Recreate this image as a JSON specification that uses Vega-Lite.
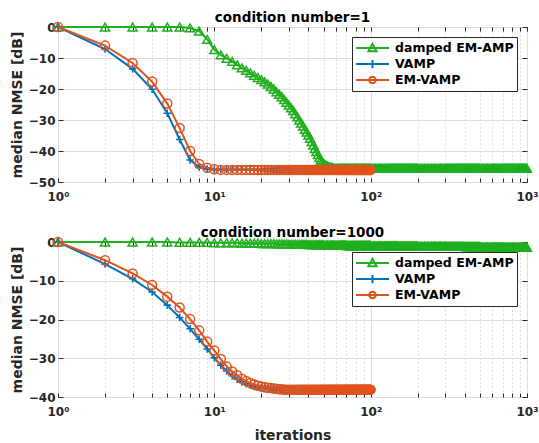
{
  "$schema": "https://vega.github.io/schema/vega-lite/v6.json",
  "padding": {"left": 9, "top": 10, "right": 2, "bottom": 2},
  "spacing": 22,
  "config": {
    "font": "DejaVu Sans",
    "view": {"stroke": "#262626", "strokeWidth": 1},
    "axis": {
      "labelFont": "DejaVu Sans", "labelFontWeight": "bold", "labelFontSize": 12, "labelColor": "#262626",
      "titleFont": "DejaVu Sans", "titleFontWeight": "bold", "titleFontSize": 14, "titleColor": "#262626",
      "domain": false, "tickColor": "#262626", "gridColor": "#dedede", "gridOpacity": 1, "gridWidth": 1
    },
    "title": {"font": "DejaVu Sans", "fontSize": 13.5, "fontWeight": "bold", "color": "#000000", "offset": -5},
    "legend": {
      "orient": "top-right", "offset": 10, "fillColor": "#ffffff", "strokeColor": "#262626", "padding": 3,
      "symbolSize": 1089, "clipHeight": 16, "symbolStrokeWidth": 2, "symbolOpacity": 1,
      "labelFont": "DejaVu Sans", "labelFontSize": 12.5, "labelFontWeight": "bold", "labelColor": "#000000",
      "labelOffset": 5, "rowPadding": 0
    }
  },
  "resolve": {"scale": {"color": "independent", "shape": "independent"}, "legend": {"color": "independent", "shape": "independent"}},
  "datasets": {
    "leg": [{"s": "damped EM-AMP", "x": 1, "y": 0}, {"s": "VAMP", "x": 1, "y": 0}, {"s": "EM-VAMP", "x": 1, "y": 0}],
    "a1": [{"x":1,"y":0},{"x":2,"y":0},{"x":3,"y":0},{"x":4,"y":0},{"x":5,"y":0},{"x":6,"y":0},{"x":7,"y":-0.3},{"x":8,"y":-1.3},{"x":9,"y":-4},{"x":10,"y":-7.3},{"x":11,"y":-9},{"x":12,"y":-10.1},{"x":13,"y":-11.1},{"x":14,"y":-12.2},{"x":15,"y":-13.2},{"x":16,"y":-14},{"x":17,"y":-14.8},{"x":18,"y":-15.6},{"x":19,"y":-16.3},{"x":20,"y":-17},{"x":21,"y":-17.7},{"x":22,"y":-18.4},{"x":23,"y":-19.2},{"x":24,"y":-20},{"x":25,"y":-20.9},{"x":26,"y":-21.7},{"x":27,"y":-22.5},{"x":28,"y":-23.4},{"x":29,"y":-24.3},{"x":30,"y":-25.2},{"x":31,"y":-26.1},{"x":32,"y":-27},{"x":33,"y":-28},{"x":34,"y":-29},{"x":35,"y":-30},{"x":36,"y":-31},{"x":37,"y":-32},{"x":38,"y":-33},{"x":39,"y":-33.9},{"x":40,"y":-34.9},{"x":41,"y":-35.9},{"x":42,"y":-37},{"x":43,"y":-38.1},{"x":44,"y":-39.2},{"x":45,"y":-40.2},{"x":46,"y":-41.2},{"x":47,"y":-42.1},{"x":48,"y":-42.9},{"x":49,"y":-43.5},{"x":50,"y":-44},{"x":51,"y":-44.4},{"x":52,"y":-44.7},{"x":53,"y":-44.9},{"x":54,"y":-45.1},{"x":55,"y":-45.2},{"x":56,"y":-45.3},{"x":57,"y":-45.4},{"x":58,"y":-45.5},{"x":59,"y":-45.6},{"x":60,"y":-45.6},{"x":61,"y":-45.6},{"x":62,"y":-45.6},{"x":63,"y":-45.6},{"x":64,"y":-45.6},{"x":65,"y":-45.6},{"x":66,"y":-45.6},{"x":67,"y":-45.6},{"x":68,"y":-45.6},{"x":69,"y":-45.6},{"x":70,"y":-45.6},{"x":71,"y":-45.6},{"x":72,"y":-45.6},{"x":73,"y":-45.6},{"x":74,"y":-45.6},{"x":75,"y":-45.6},{"x":76,"y":-45.6},{"x":77,"y":-45.6},{"x":78,"y":-45.6},{"x":79,"y":-45.6},{"x":80,"y":-45.6},{"x":81,"y":-45.6},{"x":82,"y":-45.6},{"x":83,"y":-45.6},{"x":84,"y":-45.6},{"x":85,"y":-45.6},{"x":86,"y":-45.6},{"x":87,"y":-45.6},{"x":88,"y":-45.6},{"x":89,"y":-45.6},{"x":90,"y":-45.6},{"x":91,"y":-45.6},{"x":92,"y":-45.6},{"x":93,"y":-45.6},{"x":94,"y":-45.6},{"x":95,"y":-45.6},{"x":96,"y":-45.6},{"x":97,"y":-45.6},{"x":98,"y":-45.6},{"x":99,"y":-45.6},{"x":100,"y":-45.6},{"x":102,"y":-45.6},{"x":104,"y":-45.6},{"x":106,"y":-45.6},{"x":108,"y":-45.6},{"x":110,"y":-45.6},{"x":112,"y":-45.6},{"x":114,"y":-45.6},{"x":116,"y":-45.6},{"x":118,"y":-45.6},{"x":120,"y":-45.6},{"x":122,"y":-45.6},{"x":124,"y":-45.6},{"x":126,"y":-45.6},{"x":128,"y":-45.6},{"x":130,"y":-45.6},{"x":132,"y":-45.6},{"x":134,"y":-45.6},{"x":136,"y":-45.6},{"x":138,"y":-45.6},{"x":140,"y":-45.6},{"x":142,"y":-45.6},{"x":144,"y":-45.6},{"x":146,"y":-45.6},{"x":148,"y":-45.6},{"x":150,"y":-45.6},{"x":152,"y":-45.6},{"x":154,"y":-45.6},{"x":156,"y":-45.6},{"x":158,"y":-45.6},{"x":160,"y":-45.6},{"x":162,"y":-45.6},{"x":164,"y":-45.6},{"x":166,"y":-45.6},{"x":168,"y":-45.6},{"x":170,"y":-45.6},{"x":172,"y":-45.6},{"x":174,"y":-45.6},{"x":176,"y":-45.6},{"x":178,"y":-45.6},{"x":180,"y":-45.6},{"x":182,"y":-45.6},{"x":184,"y":-45.6},{"x":186,"y":-45.6},{"x":188,"y":-45.6},{"x":190,"y":-45.6},{"x":192,"y":-45.6},{"x":194,"y":-45.6},{"x":196,"y":-45.6},{"x":198,"y":-45.6},{"x":200,"y":-45.6},{"x":205,"y":-45.6},{"x":210,"y":-45.6},{"x":215,"y":-45.6},{"x":220,"y":-45.6},{"x":225,"y":-45.6},{"x":230,"y":-45.6},{"x":235,"y":-45.6},{"x":240,"y":-45.6},{"x":245,"y":-45.6},{"x":250,"y":-45.6},{"x":255,"y":-45.6},{"x":260,"y":-45.6},{"x":265,"y":-45.6},{"x":270,"y":-45.6},{"x":275,"y":-45.6},{"x":280,"y":-45.6},{"x":285,"y":-45.6},{"x":290,"y":-45.6},{"x":295,"y":-45.6},{"x":300,"y":-45.6},{"x":305,"y":-45.6},{"x":310,"y":-45.6},{"x":315,"y":-45.6},{"x":320,"y":-45.6},{"x":325,"y":-45.6},{"x":330,"y":-45.6},{"x":335,"y":-45.6},{"x":340,"y":-45.6},{"x":345,"y":-45.6},{"x":350,"y":-45.6},{"x":355,"y":-45.6},{"x":360,"y":-45.6},{"x":365,"y":-45.6},{"x":370,"y":-45.6},{"x":375,"y":-45.6},{"x":380,"y":-45.6},{"x":385,"y":-45.6},{"x":390,"y":-45.6},{"x":395,"y":-45.6},{"x":400,"y":-45.6},{"x":405,"y":-45.6},{"x":410,"y":-45.6},{"x":415,"y":-45.6},{"x":420,"y":-45.6},{"x":425,"y":-45.6},{"x":430,"y":-45.6},{"x":435,"y":-45.6},{"x":440,"y":-45.6},{"x":445,"y":-45.6},{"x":450,"y":-45.6},{"x":455,"y":-45.6},{"x":460,"y":-45.6},{"x":465,"y":-45.6},{"x":470,"y":-45.6},{"x":475,"y":-45.6},{"x":480,"y":-45.6},{"x":485,"y":-45.6},{"x":490,"y":-45.6},{"x":495,"y":-45.6},{"x":500,"y":-45.6},{"x":510,"y":-45.6},{"x":520,"y":-45.6},{"x":530,"y":-45.6},{"x":540,"y":-45.6},{"x":550,"y":-45.6},{"x":560,"y":-45.6},{"x":570,"y":-45.6},{"x":580,"y":-45.6},{"x":590,"y":-45.6},{"x":600,"y":-45.6},{"x":610,"y":-45.6},{"x":620,"y":-45.6},{"x":630,"y":-45.6},{"x":640,"y":-45.6},{"x":650,"y":-45.6},{"x":660,"y":-45.6},{"x":670,"y":-45.6},{"x":680,"y":-45.6},{"x":690,"y":-45.6},{"x":700,"y":-45.6},{"x":710,"y":-45.6},{"x":720,"y":-45.6},{"x":730,"y":-45.6},{"x":740,"y":-45.6},{"x":750,"y":-45.6},{"x":760,"y":-45.6},{"x":770,"y":-45.6},{"x":780,"y":-45.6},{"x":790,"y":-45.6},{"x":800,"y":-45.6},{"x":810,"y":-45.6},{"x":820,"y":-45.6},{"x":830,"y":-45.6},{"x":840,"y":-45.6},{"x":850,"y":-45.6},{"x":860,"y":-45.6},{"x":870,"y":-45.6},{"x":880,"y":-45.6},{"x":890,"y":-45.6},{"x":900,"y":-45.6},{"x":910,"y":-45.6},{"x":920,"y":-45.6},{"x":930,"y":-45.6},{"x":940,"y":-45.6},{"x":950,"y":-45.6},{"x":960,"y":-45.6},{"x":970,"y":-45.6},{"x":980,"y":-45.6},{"x":990,"y":-45.6},{"x":1000,"y":-45.6}],
    "v1": [{"x":1,"y":0},{"x":2,"y":-7.1},{"x":3,"y":-13.5},{"x":4,"y":-20.1},{"x":5,"y":-27.8},{"x":6,"y":-36.3},{"x":7,"y":-42.9},{"x":8,"y":-45.2},{"x":9,"y":-45.8},{"x":10,"y":-46},{"x":11,"y":-46},{"x":12,"y":-46},{"x":13,"y":-46},{"x":14,"y":-46},{"x":15,"y":-46},{"x":16,"y":-46},{"x":17,"y":-46},{"x":18,"y":-46},{"x":19,"y":-46},{"x":20,"y":-46},{"x":21,"y":-46},{"x":22,"y":-46},{"x":23,"y":-46},{"x":24,"y":-46},{"x":25,"y":-46},{"x":26,"y":-46},{"x":27,"y":-46},{"x":28,"y":-46},{"x":29,"y":-46},{"x":30,"y":-46},{"x":31,"y":-46},{"x":32,"y":-46},{"x":33,"y":-46},{"x":34,"y":-46},{"x":35,"y":-46},{"x":36,"y":-46},{"x":37,"y":-46},{"x":38,"y":-46},{"x":39,"y":-46},{"x":40,"y":-46},{"x":41,"y":-46},{"x":42,"y":-46},{"x":43,"y":-46},{"x":44,"y":-46},{"x":45,"y":-46},{"x":46,"y":-46},{"x":47,"y":-46},{"x":48,"y":-46},{"x":49,"y":-46},{"x":50,"y":-46},{"x":51,"y":-46},{"x":52,"y":-46},{"x":53,"y":-46},{"x":54,"y":-46},{"x":55,"y":-46},{"x":56,"y":-46},{"x":57,"y":-46},{"x":58,"y":-46},{"x":59,"y":-46},{"x":60,"y":-46},{"x":61,"y":-46},{"x":62,"y":-46},{"x":63,"y":-46},{"x":64,"y":-46},{"x":65,"y":-46},{"x":66,"y":-46},{"x":67,"y":-46},{"x":68,"y":-46},{"x":69,"y":-46},{"x":70,"y":-46},{"x":71,"y":-46},{"x":72,"y":-46},{"x":73,"y":-46},{"x":74,"y":-46},{"x":75,"y":-46},{"x":76,"y":-46},{"x":77,"y":-46},{"x":78,"y":-46},{"x":79,"y":-46},{"x":80,"y":-46},{"x":81,"y":-46},{"x":82,"y":-46},{"x":83,"y":-46},{"x":84,"y":-46},{"x":85,"y":-46},{"x":86,"y":-46},{"x":87,"y":-46},{"x":88,"y":-46},{"x":89,"y":-46},{"x":90,"y":-46},{"x":91,"y":-46},{"x":92,"y":-46},{"x":93,"y":-46},{"x":94,"y":-46},{"x":95,"y":-46},{"x":96,"y":-46},{"x":97,"y":-46},{"x":98,"y":-46},{"x":99,"y":-46},{"x":100,"y":-46}],
    "e1": [{"x":1,"y":0},{"x":2,"y":-6},{"x":3,"y":-11.6},{"x":4,"y":-17.6},{"x":5,"y":-24.7},{"x":6,"y":-32.6},{"x":7,"y":-40},{"x":8,"y":-44.2},{"x":9,"y":-45.4},{"x":10,"y":-45.9},{"x":11,"y":-46.1},{"x":12,"y":-46.1},{"x":13,"y":-46.1},{"x":14,"y":-46.1},{"x":15,"y":-46.1},{"x":16,"y":-46.1},{"x":17,"y":-46.1},{"x":18,"y":-46.1},{"x":19,"y":-46.1},{"x":20,"y":-46.1},{"x":21,"y":-46.1},{"x":22,"y":-46.1},{"x":23,"y":-46.1},{"x":24,"y":-46.1},{"x":25,"y":-46.1},{"x":26,"y":-46.1},{"x":27,"y":-46.1},{"x":28,"y":-46.1},{"x":29,"y":-46.1},{"x":30,"y":-46.1},{"x":31,"y":-46.1},{"x":32,"y":-46.1},{"x":33,"y":-46.1},{"x":34,"y":-46.1},{"x":35,"y":-46.1},{"x":36,"y":-46.1},{"x":37,"y":-46.1},{"x":38,"y":-46.1},{"x":39,"y":-46.1},{"x":40,"y":-46.1},{"x":41,"y":-46.1},{"x":42,"y":-46.1},{"x":43,"y":-46.1},{"x":44,"y":-46.1},{"x":45,"y":-46.1},{"x":46,"y":-46.1},{"x":47,"y":-46.1},{"x":48,"y":-46.1},{"x":49,"y":-46.1},{"x":50,"y":-46.1},{"x":51,"y":-46.1},{"x":52,"y":-46.1},{"x":53,"y":-46.1},{"x":54,"y":-46.1},{"x":55,"y":-46.1},{"x":56,"y":-46.1},{"x":57,"y":-46.1},{"x":58,"y":-46.1},{"x":59,"y":-46.1},{"x":60,"y":-46.1},{"x":61,"y":-46.1},{"x":62,"y":-46.1},{"x":63,"y":-46.1},{"x":64,"y":-46.1},{"x":65,"y":-46.1},{"x":66,"y":-46.1},{"x":67,"y":-46.1},{"x":68,"y":-46.1},{"x":69,"y":-46.1},{"x":70,"y":-46.1},{"x":71,"y":-46.1},{"x":72,"y":-46.1},{"x":73,"y":-46.1},{"x":74,"y":-46.1},{"x":75,"y":-46.1},{"x":76,"y":-46.1},{"x":77,"y":-46.1},{"x":78,"y":-46.1},{"x":79,"y":-46.1},{"x":80,"y":-46.1},{"x":81,"y":-46.1},{"x":82,"y":-46.1},{"x":83,"y":-46.1},{"x":84,"y":-46.1},{"x":85,"y":-46.1},{"x":86,"y":-46.1},{"x":87,"y":-46.1},{"x":88,"y":-46.1},{"x":89,"y":-46.1},{"x":90,"y":-46.1},{"x":91,"y":-46.1},{"x":92,"y":-46.1},{"x":93,"y":-46.1},{"x":94,"y":-46.1},{"x":95,"y":-46.1},{"x":96,"y":-46.1},{"x":97,"y":-46.1},{"x":98,"y":-46.1},{"x":99,"y":-46.1},{"x":100,"y":-46.1}],
    "a2": [{"x":1,"y":0},{"x":2,"y":0},{"x":3,"y":0},{"x":4,"y":0},{"x":5,"y":0},{"x":6,"y":-0.1},{"x":7,"y":-0.1},{"x":8,"y":-0.1},{"x":9,"y":-0.1},{"x":10,"y":-0.2},{"x":11,"y":-0.2},{"x":12,"y":-0.2},{"x":13,"y":-0.2},{"x":14,"y":-0.2},{"x":15,"y":-0.3},{"x":16,"y":-0.3},{"x":17,"y":-0.3},{"x":18,"y":-0.3},{"x":19,"y":-0.3},{"x":20,"y":-0.4},{"x":21,"y":-0.4},{"x":22,"y":-0.4},{"x":23,"y":-0.4},{"x":24,"y":-0.4},{"x":25,"y":-0.5},{"x":26,"y":-0.5},{"x":27,"y":-0.5},{"x":28,"y":-0.5},{"x":29,"y":-0.5},{"x":30,"y":-0.6},{"x":31,"y":-0.6},{"x":32,"y":-0.6},{"x":33,"y":-0.6},{"x":34,"y":-0.6},{"x":35,"y":-0.6},{"x":36,"y":-0.6},{"x":37,"y":-0.6},{"x":38,"y":-0.6},{"x":39,"y":-0.6},{"x":40,"y":-0.7},{"x":41,"y":-0.7},{"x":42,"y":-0.7},{"x":43,"y":-0.7},{"x":44,"y":-0.7},{"x":45,"y":-0.7},{"x":46,"y":-0.7},{"x":47,"y":-0.7},{"x":48,"y":-0.7},{"x":49,"y":-0.7},{"x":50,"y":-0.8},{"x":51,"y":-0.8},{"x":52,"y":-0.8},{"x":53,"y":-0.8},{"x":54,"y":-0.8},{"x":55,"y":-0.8},{"x":56,"y":-0.8},{"x":57,"y":-0.8},{"x":58,"y":-0.8},{"x":59,"y":-0.8},{"x":60,"y":-0.8},{"x":61,"y":-0.8},{"x":62,"y":-0.8},{"x":63,"y":-0.8},{"x":64,"y":-0.8},{"x":65,"y":-0.8},{"x":66,"y":-0.8},{"x":67,"y":-0.8},{"x":68,"y":-0.8},{"x":69,"y":-0.8},{"x":70,"y":-0.9},{"x":71,"y":-0.9},{"x":72,"y":-0.9},{"x":73,"y":-0.9},{"x":74,"y":-0.9},{"x":75,"y":-0.9},{"x":76,"y":-0.9},{"x":77,"y":-0.9},{"x":78,"y":-0.9},{"x":79,"y":-0.9},{"x":80,"y":-0.9},{"x":81,"y":-0.9},{"x":82,"y":-0.9},{"x":83,"y":-0.9},{"x":84,"y":-0.9},{"x":85,"y":-0.9},{"x":86,"y":-0.9},{"x":87,"y":-0.9},{"x":88,"y":-0.9},{"x":89,"y":-0.9},{"x":90,"y":-0.9},{"x":91,"y":-0.9},{"x":92,"y":-0.9},{"x":93,"y":-0.9},{"x":94,"y":-0.9},{"x":95,"y":-0.9},{"x":96,"y":-0.9},{"x":97,"y":-0.9},{"x":98,"y":-0.9},{"x":99,"y":-0.9},{"x":100,"y":-0.9},{"x":102,"y":-1},{"x":104,"y":-1},{"x":106,"y":-1},{"x":108,"y":-1},{"x":110,"y":-1},{"x":112,"y":-1},{"x":114,"y":-1},{"x":116,"y":-1},{"x":118,"y":-1},{"x":120,"y":-1},{"x":122,"y":-1},{"x":124,"y":-1},{"x":126,"y":-1},{"x":128,"y":-1},{"x":130,"y":-1},{"x":132,"y":-1},{"x":134,"y":-1},{"x":136,"y":-1},{"x":138,"y":-1},{"x":140,"y":-1},{"x":142,"y":-1},{"x":144,"y":-1},{"x":146,"y":-1},{"x":148,"y":-1},{"x":150,"y":-1},{"x":152,"y":-1.05},{"x":154,"y":-1.05},{"x":156,"y":-1.05},{"x":158,"y":-1.05},{"x":160,"y":-1.05},{"x":162,"y":-1.05},{"x":164,"y":-1.05},{"x":166,"y":-1.05},{"x":168,"y":-1.05},{"x":170,"y":-1.05},{"x":172,"y":-1.05},{"x":174,"y":-1.05},{"x":176,"y":-1.05},{"x":178,"y":-1.05},{"x":180,"y":-1.05},{"x":182,"y":-1.05},{"x":184,"y":-1.05},{"x":186,"y":-1.05},{"x":188,"y":-1.05},{"x":190,"y":-1.05},{"x":192,"y":-1.05},{"x":194,"y":-1.05},{"x":196,"y":-1.05},{"x":198,"y":-1.05},{"x":200,"y":-1.05},{"x":205,"y":-1.1},{"x":210,"y":-1.1},{"x":215,"y":-1.1},{"x":220,"y":-1.1},{"x":225,"y":-1.1},{"x":230,"y":-1.1},{"x":235,"y":-1.1},{"x":240,"y":-1.1},{"x":245,"y":-1.1},{"x":250,"y":-1.1},{"x":255,"y":-1.1},{"x":260,"y":-1.1},{"x":265,"y":-1.1},{"x":270,"y":-1.1},{"x":275,"y":-1.1},{"x":280,"y":-1.1},{"x":285,"y":-1.1},{"x":290,"y":-1.1},{"x":295,"y":-1.1},{"x":300,"y":-1.1},{"x":305,"y":-1.15},{"x":310,"y":-1.15},{"x":315,"y":-1.15},{"x":320,"y":-1.15},{"x":325,"y":-1.15},{"x":330,"y":-1.15},{"x":335,"y":-1.15},{"x":340,"y":-1.15},{"x":345,"y":-1.15},{"x":350,"y":-1.15},{"x":355,"y":-1.15},{"x":360,"y":-1.15},{"x":365,"y":-1.15},{"x":370,"y":-1.15},{"x":375,"y":-1.15},{"x":380,"y":-1.15},{"x":385,"y":-1.15},{"x":390,"y":-1.15},{"x":395,"y":-1.15},{"x":400,"y":-1.15},{"x":405,"y":-1.2},{"x":410,"y":-1.2},{"x":415,"y":-1.2},{"x":420,"y":-1.2},{"x":425,"y":-1.2},{"x":430,"y":-1.2},{"x":435,"y":-1.2},{"x":440,"y":-1.2},{"x":445,"y":-1.2},{"x":450,"y":-1.2},{"x":455,"y":-1.2},{"x":460,"y":-1.2},{"x":465,"y":-1.2},{"x":470,"y":-1.2},{"x":475,"y":-1.2},{"x":480,"y":-1.2},{"x":485,"y":-1.2},{"x":490,"y":-1.2},{"x":495,"y":-1.2},{"x":500,"y":-1.2},{"x":510,"y":-1.3},{"x":520,"y":-1.3},{"x":530,"y":-1.3},{"x":540,"y":-1.3},{"x":550,"y":-1.3},{"x":560,"y":-1.3},{"x":570,"y":-1.3},{"x":580,"y":-1.3},{"x":590,"y":-1.3},{"x":600,"y":-1.3},{"x":610,"y":-1.3},{"x":620,"y":-1.3},{"x":630,"y":-1.3},{"x":640,"y":-1.3},{"x":650,"y":-1.3},{"x":660,"y":-1.3},{"x":670,"y":-1.3},{"x":680,"y":-1.3},{"x":690,"y":-1.3},{"x":700,"y":-1.3},{"x":710,"y":-1.4},{"x":720,"y":-1.4},{"x":730,"y":-1.4},{"x":740,"y":-1.4},{"x":750,"y":-1.4},{"x":760,"y":-1.4},{"x":770,"y":-1.4},{"x":780,"y":-1.4},{"x":790,"y":-1.4},{"x":800,"y":-1.4},{"x":810,"y":-1.4},{"x":820,"y":-1.4},{"x":830,"y":-1.4},{"x":840,"y":-1.4},{"x":850,"y":-1.4},{"x":860,"y":-1.4},{"x":870,"y":-1.4},{"x":880,"y":-1.4},{"x":890,"y":-1.4},{"x":900,"y":-1.4},{"x":910,"y":-1.4},{"x":920,"y":-1.4},{"x":930,"y":-1.4},{"x":940,"y":-1.4},{"x":950,"y":-1.4},{"x":960,"y":-1.4},{"x":970,"y":-1.4},{"x":980,"y":-1.4},{"x":990,"y":-1.4},{"x":1000,"y":-1.4}],
    "v2": [{"x":1,"y":0},{"x":2,"y":-5.7},{"x":3,"y":-9.5},{"x":4,"y":-12.9},{"x":5,"y":-16.3},{"x":6,"y":-19.5},{"x":7,"y":-22.4},{"x":8,"y":-25.1},{"x":9,"y":-27.6},{"x":10,"y":-29.9},{"x":11,"y":-31.8},{"x":12,"y":-33.3},{"x":13,"y":-34.5},{"x":14,"y":-35.4},{"x":15,"y":-36.1},{"x":16,"y":-36.6},{"x":17,"y":-37},{"x":18,"y":-37.3},{"x":19,"y":-37.5},{"x":20,"y":-37.7},{"x":21,"y":-37.8},{"x":22,"y":-37.9},{"x":23,"y":-38},{"x":24,"y":-38.1},{"x":25,"y":-38.2},{"x":26,"y":-38.2},{"x":27,"y":-38.2},{"x":28,"y":-38.2},{"x":29,"y":-38.2},{"x":30,"y":-38.2},{"x":31,"y":-38.2},{"x":32,"y":-38.2},{"x":33,"y":-38.2},{"x":34,"y":-38.2},{"x":35,"y":-38.2},{"x":36,"y":-38.2},{"x":37,"y":-38.2},{"x":38,"y":-38.2},{"x":39,"y":-38.2},{"x":40,"y":-38.2},{"x":41,"y":-38.2},{"x":42,"y":-38.2},{"x":43,"y":-38.2},{"x":44,"y":-38.2},{"x":45,"y":-38.2},{"x":46,"y":-38.2},{"x":47,"y":-38.2},{"x":48,"y":-38.2},{"x":49,"y":-38.2},{"x":50,"y":-38.2},{"x":51,"y":-38.2},{"x":52,"y":-38.2},{"x":53,"y":-38.2},{"x":54,"y":-38.2},{"x":55,"y":-38.2},{"x":56,"y":-38.2},{"x":57,"y":-38.2},{"x":58,"y":-38.2},{"x":59,"y":-38.2},{"x":60,"y":-38.2},{"x":61,"y":-38.2},{"x":62,"y":-38.2},{"x":63,"y":-38.2},{"x":64,"y":-38.2},{"x":65,"y":-38.2},{"x":66,"y":-38.2},{"x":67,"y":-38.2},{"x":68,"y":-38.2},{"x":69,"y":-38.2},{"x":70,"y":-38.2},{"x":71,"y":-38.2},{"x":72,"y":-38.2},{"x":73,"y":-38.2},{"x":74,"y":-38.2},{"x":75,"y":-38.2},{"x":76,"y":-38.2},{"x":77,"y":-38.2},{"x":78,"y":-38.2},{"x":79,"y":-38.2},{"x":80,"y":-38.2},{"x":81,"y":-38.2},{"x":82,"y":-38.2},{"x":83,"y":-38.2},{"x":84,"y":-38.2},{"x":85,"y":-38.2},{"x":86,"y":-38.2},{"x":87,"y":-38.2},{"x":88,"y":-38.2},{"x":89,"y":-38.2},{"x":90,"y":-38.2},{"x":91,"y":-38.2},{"x":92,"y":-38.2},{"x":93,"y":-38.2},{"x":94,"y":-38.2},{"x":95,"y":-38.2},{"x":96,"y":-38.2},{"x":97,"y":-38.2},{"x":98,"y":-38.2},{"x":99,"y":-38.2},{"x":100,"y":-38.2}],
    "e2": [{"x":1,"y":0},{"x":2,"y":-4.7},{"x":3,"y":-8.1},{"x":4,"y":-11.1},{"x":5,"y":-14.1},{"x":6,"y":-16.9},{"x":7,"y":-19.9},{"x":8,"y":-22.8},{"x":9,"y":-25.7},{"x":10,"y":-28},{"x":11,"y":-30.2},{"x":12,"y":-32.1},{"x":13,"y":-33.4},{"x":14,"y":-34.4},{"x":15,"y":-35.3},{"x":16,"y":-35.9},{"x":17,"y":-36.4},{"x":18,"y":-36.8},{"x":19,"y":-37.1},{"x":20,"y":-37.3},{"x":21,"y":-37.5},{"x":22,"y":-37.6},{"x":23,"y":-37.7},{"x":24,"y":-37.8},{"x":25,"y":-37.9},{"x":26,"y":-38},{"x":27,"y":-38},{"x":28,"y":-38.1},{"x":29,"y":-38.1},{"x":30,"y":-38.1},{"x":31,"y":-38.1},{"x":32,"y":-38.1},{"x":33,"y":-38.1},{"x":34,"y":-38.1},{"x":35,"y":-38.1},{"x":36,"y":-38.1},{"x":37,"y":-38.1},{"x":38,"y":-38.1},{"x":39,"y":-38.1},{"x":40,"y":-38.1},{"x":41,"y":-38.1},{"x":42,"y":-38.1},{"x":43,"y":-38.1},{"x":44,"y":-38.1},{"x":45,"y":-38.1},{"x":46,"y":-38.1},{"x":47,"y":-38.1},{"x":48,"y":-38.1},{"x":49,"y":-38.1},{"x":50,"y":-38.1},{"x":51,"y":-38.1},{"x":52,"y":-38.1},{"x":53,"y":-38.1},{"x":54,"y":-38.1},{"x":55,"y":-38.1},{"x":56,"y":-38.1},{"x":57,"y":-38.1},{"x":58,"y":-38.1},{"x":59,"y":-38.1},{"x":60,"y":-38.1},{"x":61,"y":-38.1},{"x":62,"y":-38.1},{"x":63,"y":-38.1},{"x":64,"y":-38.1},{"x":65,"y":-38.1},{"x":66,"y":-38.1},{"x":67,"y":-38.1},{"x":68,"y":-38.1},{"x":69,"y":-38.1},{"x":70,"y":-38.1},{"x":71,"y":-38.1},{"x":72,"y":-38.1},{"x":73,"y":-38.1},{"x":74,"y":-38.1},{"x":75,"y":-38.1},{"x":76,"y":-38.1},{"x":77,"y":-38.1},{"x":78,"y":-38.1},{"x":79,"y":-38.1},{"x":80,"y":-38.1},{"x":81,"y":-38.1},{"x":82,"y":-38.1},{"x":83,"y":-38.1},{"x":84,"y":-38.1},{"x":85,"y":-38.1},{"x":86,"y":-38.1},{"x":87,"y":-38.1},{"x":88,"y":-38.1},{"x":89,"y":-38.1},{"x":90,"y":-38.1},{"x":91,"y":-38.1},{"x":92,"y":-38.1},{"x":93,"y":-38.1},{"x":94,"y":-38.1},{"x":95,"y":-38.1},{"x":96,"y":-38.1},{"x":97,"y":-38.1},{"x":98,"y":-38.1},{"x":99,"y":-38.1},{"x":100,"y":-38.1}]
  },
  "vconcat": [
    {
      "width": 469, "height": 155,
      "title": {"text": "condition number=1"},
      "layer": [
        {"data": {"name": "a1"}, "mark": {"type": "line", "color": "#1FAF1F", "strokeWidth": 2},
         "encoding": {
           "x": {"field": "x", "type": "quantitative", "scale": {"type": "log", "domain": [1, 1000], "nice": false},
                 "axis": {"orient": "bottom", "title": null, "values": [1,2,3,4,5,6,7,8,9,10,20,30,40,50,60,70,80,90,100,200,300,400,500,600,700,800,900,1000],
                          "labelExpr": "datum.value == 1 ? '10⁰' : datum.value == 10 ? '10¹' : datum.value == 100 ? '10²' : datum.value == 1000 ? '10³' : ''",
                          "labelFlush": false, "labelOverlap": false, "labelPadding": 13, "tickSize": -4, "grid": true,
                          "gridDash": {"condition": {"test": "datum.value == 1 || datum.value == 10 || datum.value == 100 || datum.value == 1000", "value": []}, "value": [1, 3]},
                          "gridColor": {"condition": {"test": "datum.value == 1 || datum.value == 10 || datum.value == 100 || datum.value == 1000", "value": "#dedede"}, "value": "#c4c4c4"}}},
           "y": {"field": "y", "type": "quantitative", "scale": {"domain": [-50, 0], "nice": false},
                 "axis": {"orient": "left", "title": "median NMSE [dB]", "values": [-50,-40,-30,-20,-10,0], "tickSize": -5, "labelPadding": 8, "grid": true, "titlePadding": 4}}
         }},
        {"data": {"name": "a1"}, "mark": {"type": "point", "shape": "triangle-up", "filled": false, "color": "#1FAF1F", "size": 81, "strokeWidth": 1.5, "opacity": 1},
         "encoding": {
           "x": {"field": "x", "type": "quantitative", "scale": {"type": "log", "domain": [1, 1000], "nice": false},
                 "axis": {"orient": "top", "title": null, "values": [1,2,3,4,5,6,7,8,9,10,20,30,40,50,60,70,80,90,100,200,300,400,500,600,700,800,900,1000], "labels": false, "grid": false, "tickSize": -4}},
           "y": {"field": "y", "type": "quantitative", "scale": {"domain": [-50, 0], "nice": false},
                 "axis": {"orient": "right", "title": null, "values": [-50,-40,-30,-20,-10,0], "labels": false, "grid": false, "tickSize": -5}}
         }},
        {"data": {"name": "v1"}, "mark": {"type": "line", "color": "#0072BD", "strokeWidth": 2},
         "encoding": {"x": {"field": "x", "type": "quantitative", "axis": null}, "y": {"field": "y", "type": "quantitative", "axis": null}}},
        {"data": {"name": "v1"}, "mark": {"type": "point", "shape": "M-1,0H1M0,-1V1", "filled": false, "color": "#0072BD", "size": 56, "strokeWidth": 1.6, "opacity": 1},
         "encoding": {"x": {"field": "x", "type": "quantitative", "axis": null}, "y": {"field": "y", "type": "quantitative", "axis": null}}},
        {"data": {"name": "e1"}, "mark": {"type": "line", "color": "#E0521D", "strokeWidth": 2},
         "encoding": {"x": {"field": "x", "type": "quantitative", "axis": null}, "y": {"field": "y", "type": "quantitative", "axis": null}}},
        {"data": {"name": "e1"}, "mark": {"type": "point", "shape": "circle", "filled": false, "color": "#E0521D", "size": 81, "strokeWidth": 1.5, "opacity": 1},
         "encoding": {"x": {"field": "x", "type": "quantitative", "axis": null}, "y": {"field": "y", "type": "quantitative", "axis": null}}},
        {"data": {"name": "leg"}, "mark": {"type": "point", "opacity": 0, "filled": false},
         "encoding": {
           "x": {"field": "x", "type": "quantitative", "axis": null}, "y": {"field": "y", "type": "quantitative", "axis": null},
           "color": {"field": "s", "type": "nominal", "scale": {"domain": ["damped EM-AMP", "VAMP", "EM-VAMP"], "range": ["#1FAF1F", "#0072BD", "#E0521D"]}, "legend": {"title": null}},
           "shape": {"field": "s", "type": "nominal", "scale": {"domain": ["damped EM-AMP", "VAMP", "EM-VAMP"], "range": ["M-1,0H1M0,-0.25L0.25,0.2L-0.25,0.2Z", "M-1,0H1M0,-0.25V0.25", "M-1,0H1M0.2,0A0.2,0.2 0 1,1 -0.2,0A0.2,0.2 0 1,1 0.2,0"]}, "legend": {"title": null}}
         }}
      ],
      "resolve": {"axis": {"x": "independent", "y": "independent"}}
    },
    {
      "width": 469, "height": 155,
      "title": {"text": "condition number=1000"},
      "layer": [
        {"data": {"name": "a2"}, "mark": {"type": "line", "color": "#1FAF1F", "strokeWidth": 2},
         "encoding": {
           "x": {"field": "x", "type": "quantitative", "scale": {"type": "log", "domain": [1, 1000], "nice": false},
                 "axis": {"orient": "bottom", "title": "iterations", "titlePadding": 11, "values": [1,2,3,4,5,6,7,8,9,10,20,30,40,50,60,70,80,90,100,200,300,400,500,600,700,800,900,1000],
                          "labelExpr": "datum.value == 1 ? '10⁰' : datum.value == 10 ? '10¹' : datum.value == 100 ? '10²' : datum.value == 1000 ? '10³' : ''",
                          "labelFlush": false, "labelOverlap": false, "labelPadding": 13, "tickSize": -4, "grid": true,
                          "gridDash": {"condition": {"test": "datum.value == 1 || datum.value == 10 || datum.value == 100 || datum.value == 1000", "value": []}, "value": [1, 3]},
                          "gridColor": {"condition": {"test": "datum.value == 1 || datum.value == 10 || datum.value == 100 || datum.value == 1000", "value": "#dedede"}, "value": "#c4c4c4"}}},
           "y": {"field": "y", "type": "quantitative", "scale": {"domain": [-40, 0], "nice": false},
                 "axis": {"orient": "left", "title": "median NMSE [dB]", "values": [-40,-30,-20,-10,0], "tickSize": -5, "labelPadding": 8, "grid": true, "titlePadding": 4}}
         }},
        {"data": {"name": "a2"}, "mark": {"type": "point", "shape": "triangle-up", "filled": false, "color": "#1FAF1F", "size": 81, "strokeWidth": 1.5, "opacity": 1},
         "encoding": {
           "x": {"field": "x", "type": "quantitative", "scale": {"type": "log", "domain": [1, 1000], "nice": false},
                 "axis": {"orient": "top", "title": null, "values": [1,2,3,4,5,6,7,8,9,10,20,30,40,50,60,70,80,90,100,200,300,400,500,600,700,800,900,1000], "labels": false, "grid": false, "tickSize": -4}},
           "y": {"field": "y", "type": "quantitative", "scale": {"domain": [-40, 0], "nice": false},
                 "axis": {"orient": "right", "title": null, "values": [-40,-30,-20,-10,0], "labels": false, "grid": false, "tickSize": -5}}
         }},
        {"data": {"name": "v2"}, "mark": {"type": "line", "color": "#0072BD", "strokeWidth": 2},
         "encoding": {"x": {"field": "x", "type": "quantitative", "axis": null}, "y": {"field": "y", "type": "quantitative", "axis": null}}},
        {"data": {"name": "v2"}, "mark": {"type": "point", "shape": "M-1,0H1M0,-1V1", "filled": false, "color": "#0072BD", "size": 56, "strokeWidth": 1.6, "opacity": 1},
         "encoding": {"x": {"field": "x", "type": "quantitative", "axis": null}, "y": {"field": "y", "type": "quantitative", "axis": null}}},
        {"data": {"name": "e2"}, "mark": {"type": "line", "color": "#E0521D", "strokeWidth": 2},
         "encoding": {"x": {"field": "x", "type": "quantitative", "axis": null}, "y": {"field": "y", "type": "quantitative", "axis": null}}},
        {"data": {"name": "e2"}, "mark": {"type": "point", "shape": "circle", "filled": false, "color": "#E0521D", "size": 81, "strokeWidth": 1.5, "opacity": 1},
         "encoding": {"x": {"field": "x", "type": "quantitative", "axis": null}, "y": {"field": "y", "type": "quantitative", "axis": null}}},
        {"data": {"name": "leg"}, "mark": {"type": "point", "opacity": 0, "filled": false},
         "encoding": {
           "x": {"field": "x", "type": "quantitative", "axis": null}, "y": {"field": "y", "type": "quantitative", "axis": null},
           "color": {"field": "s", "type": "nominal", "scale": {"domain": ["damped EM-AMP", "VAMP", "EM-VAMP"], "range": ["#1FAF1F", "#0072BD", "#E0521D"]}, "legend": {"title": null}},
           "shape": {"field": "s", "type": "nominal", "scale": {"domain": ["damped EM-AMP", "VAMP", "EM-VAMP"], "range": ["M-1,0H1M0,-0.25L0.25,0.2L-0.25,0.2Z", "M-1,0H1M0,-0.25V0.25", "M-1,0H1M0.2,0A0.2,0.2 0 1,1 -0.2,0A0.2,0.2 0 1,1 0.2,0"]}, "legend": {"title": null}}
         }}
      ],
      "resolve": {"axis": {"x": "independent", "y": "independent"}}
    }
  ]
}
